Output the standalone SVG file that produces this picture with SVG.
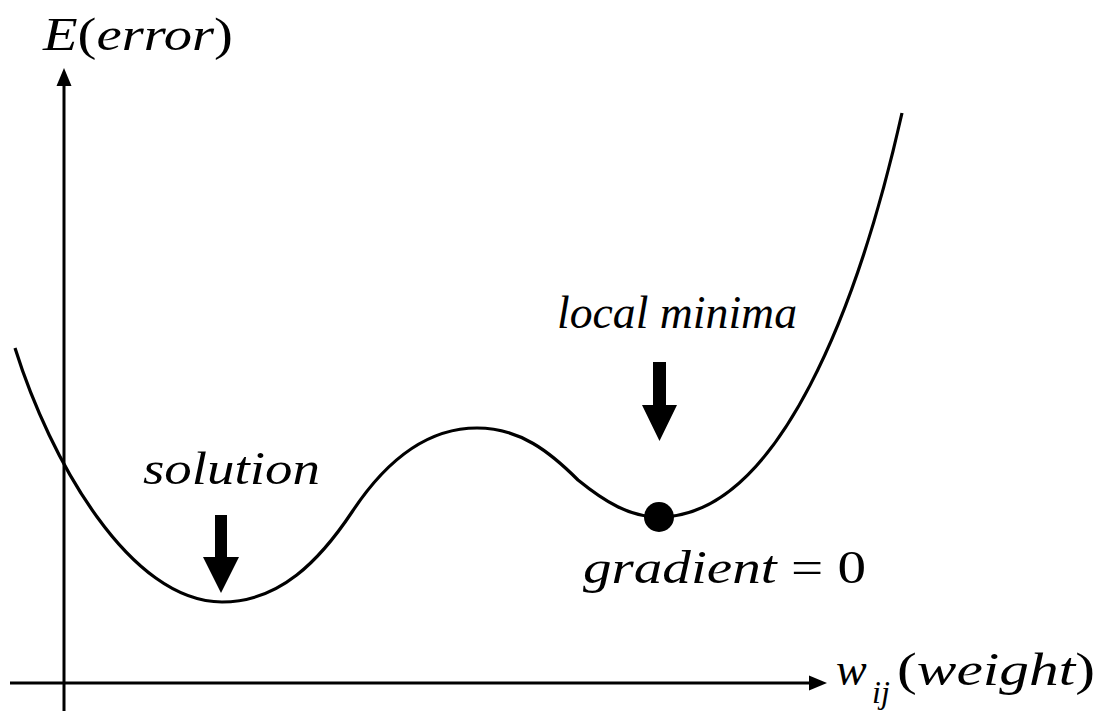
<svg xmlns="http://www.w3.org/2000/svg" width="1097" height="711" viewBox="0 0 1097 711">
<style>
.ax{stroke:#000;stroke-width:3;fill:none}
.crv{stroke:#000;stroke-width:3.2;fill:none;stroke-linecap:butt}
.t{font-family:"Liberation Serif","DejaVu Serif",serif;font-style:italic;font-size:46px;fill:#000}
.u{font-style:normal}
.arr{fill:#000}
</style>
<rect width="1097" height="711" fill="#fff"/>
<g id="connectors">
<line class="ax" x1="64" y1="711" x2="64" y2="84"/>
<polygon class="arr" points="64,68 56.5,86 71.5,86"/>
<line class="ax" x1="10" y1="683" x2="811" y2="683"/>
<polygon class="arr" points="827,683 809,675.5 809,690.5"/>
<path class="crv" d="M15,348 C50,460 130,602 222,602 C280,602 320,560 352,512 C385,462 425,428 477,428 C520,428 550,452 578,480 C605,502 630,517 659,517 C780,517 860,300 902,113"/>
</g>
<g id="solution-arrow"><polygon class="arr" points="215,515 227,515 227,557 239,557 221,593 203,557 215,557"/></g>
<g id="minima-arrow"><polygon class="arr" points="653,362 666,362 666,405 677,405 659.5,441 642,405 653,405"/></g>
<g id="minimum-dot"><circle cx="659" cy="517" r="15" fill="#000"/></g>
<g id="label-error"><text class="t" x="43" y="50" textLength="190" lengthAdjust="spacingAndGlyphs">E<tspan class="u">(</tspan>error<tspan class="u">)</tspan></text></g>
<g id="label-solution"><text class="t" x="143" y="484" textLength="177" lengthAdjust="spacingAndGlyphs">solution</text></g>
<g id="label-local"><text class="t" x="557" y="328" textLength="240" lengthAdjust="spacingAndGlyphs">local minima</text></g>
<g id="label-gradient"><text class="t" x="583" y="583" textLength="283" lengthAdjust="spacingAndGlyphs">gradient <tspan class="u">= 0</tspan></text></g>
<g id="label-weight">
<text class="t" x="836" y="685">w</text>
<text class="t" x="872" y="703" style="font-size:32px">ij</text>
<text class="t" x="897" y="685" textLength="198" lengthAdjust="spacingAndGlyphs"><tspan class="u">(</tspan>weight<tspan class="u">)</tspan></text>
</g>
</svg>
